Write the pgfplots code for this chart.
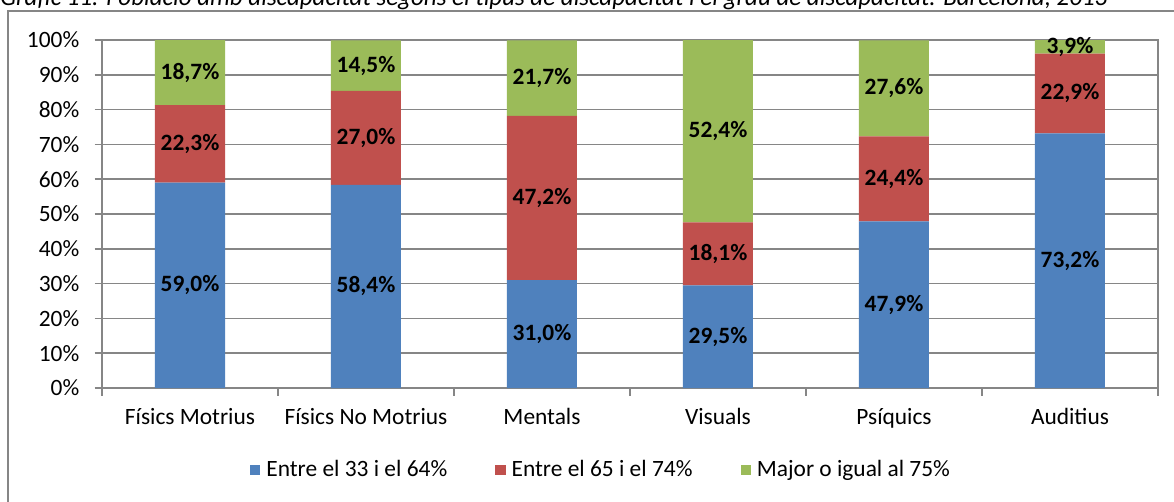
\documentclass[border=0pt]{standalone}
\usepackage{pgfplots}
\pgfplotsset{compat=1.18}
\usepackage{fontspec}
\setmainfont{Carlito}
\definecolor{cblue}{HTML}{4F81BD}
\definecolor{cred}{HTML}{C0504D}
\definecolor{cgreen}{HTML}{9BBB59}
\definecolor{cgrid}{HTML}{868686}
\begin{document}
\fontsize{11.7pt}{14pt}\selectfont
\begin{tikzpicture}[x=0.5pt,y=-0.5pt]
\useasboundingbox (0,0) rectangle (1174,502);
\clip (0,0) rectangle (1174,502);
\node[anchor=base west, inner sep=0pt, font=\fontsize{12.5pt}{14pt}\selectfont\itshape] at (0,5.5) {Gràfic 11. Població amb discapacitat segons el tipus de discapacitat i el grau de discapacitat. Barcelona, 2013};
\draw[cgrid, line width=1pt] (8,11) rectangle (1250,560);
\begin{axis}[at={(51pt,-194pt)}, anchor=south west,
  width=528pt, height=174pt, scale only axis,
  xmin=-0.5, xmax=5.5, ymin=0, ymax=100,
  ybar stacked, bar width=35pt,
  axis line style={cgrid, line width=0.75pt},
  tick style={cgrid, line width=0.75pt},
  tick align=outside, tick pos=left,
  major tick length=3.75pt,
  xtick={-0.5,0.5,...,5.5}, xticklabels={},
  extra x ticks={0,1,2,3,4,5},
  extra x tick labels={Físics Motrius, Físics No Motrius, Mentals, Visuals, Psíquics, Auditius},
  extra x tick style={major tick length=0pt, xtick style={draw=none}, tick label style={anchor=base, yshift=-18pt}},
  ytick={0,10,...,100},
  yticklabels={0\%,10\%,20\%,30\%,40\%,50\%,60\%,70\%,80\%,90\%,100\%},
  yticklabel style={xshift=-3.5pt},
  ymajorgrids, grid style={cgrid, line width=0.75pt},
  legend style={at={(0.4735,-0.2356)}, anchor=center, draw=none, legend columns=3,
    /tikz/every even column/.append style={column sep=22pt},
    nodes={inner sep=2pt}},
  legend image code/.code={\fill[#1, draw=none] (0pt,-2.6pt) rectangle (5.2pt,2.6pt);},
  legend cell align=left,
]
\addplot[fill=cblue, draw=none] coordinates {(0,59.0) (1,58.4) (2,31.0) (3,29.5) (4,47.9) (5,73.2)};
\addplot[fill=cred, draw=none] coordinates {(0,22.3) (1,27.0) (2,47.2) (3,18.1) (4,24.4) (5,22.9)};
\addplot[fill=cgreen, draw=none] coordinates {(0,18.7) (1,14.5) (2,21.7) (3,52.4) (4,27.6) (5,3.9)};
\legend{\hspace{1pt}Entre el 33 i el 64\%, \hspace{1pt}Entre el 65 i el 74\%, \hspace{1pt}Major o igual al 75\%}
\end{axis}
\begin{axis}[at={(51pt,-194pt)}, anchor=south west,
  width=528pt, height=174pt, scale only axis,
  xmin=-0.5, xmax=5.5, ymin=0, ymax=100, hide axis]
\addplot[only marks, mark=none, point meta=explicit symbolic,
  nodes near coords={\bfseries\pgfplotspointmeta\%},
  every node near coord/.append style={anchor=center, inner sep=0pt}] table[meta=lab] {
x y lab
0 29.5 59,0
0 70.15 22,3
0 90.65 18,7
1 29.2 58,4
1 71.9 27,0
1 92.65 14,5
2 15.5 31,0
2 54.6 47,2
2 89.05 21,7
3 14.75 29,5
3 38.55 18,1
3 73.8 52,4
4 23.95 47,9
4 60.1 24,4
4 86.1 27,6
5 36.6 73,2
5 84.65 22,9
5 98.05 3,9
};
\end{axis}
\end{tikzpicture}
\end{document}
